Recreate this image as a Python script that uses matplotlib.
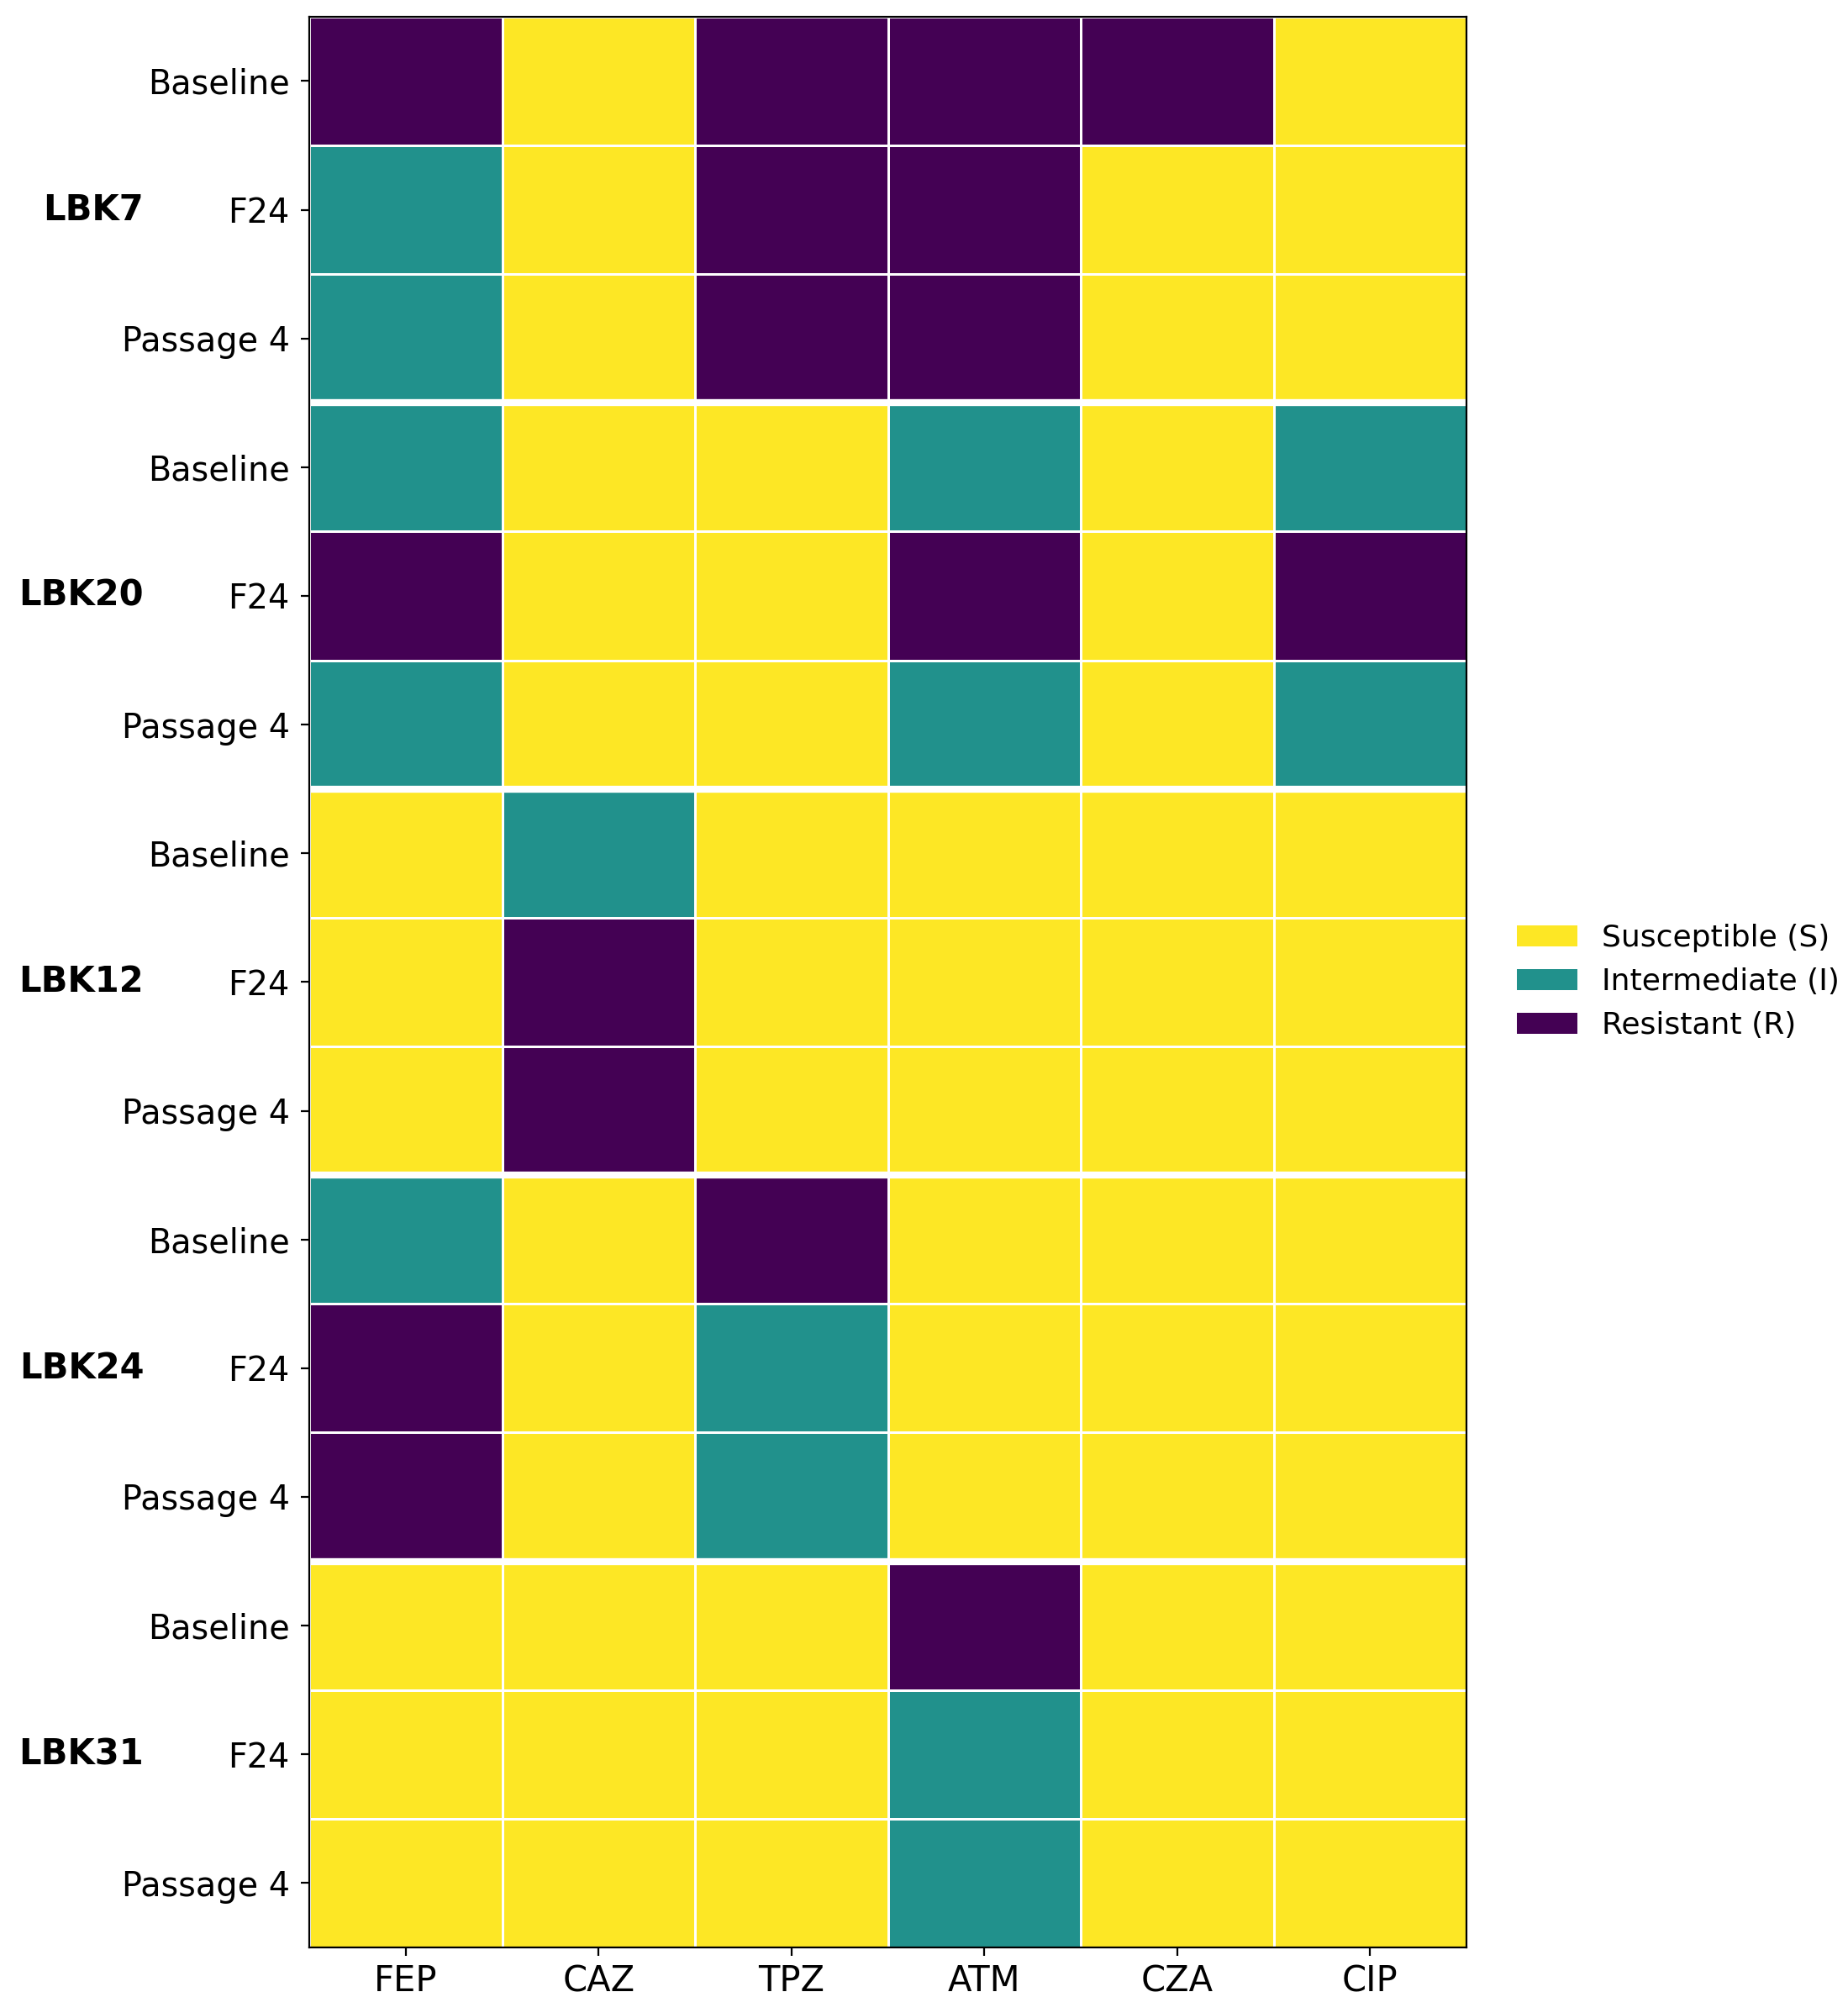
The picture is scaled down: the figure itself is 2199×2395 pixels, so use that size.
import numpy as np
import matplotlib.pyplot as plt
from matplotlib.colors import ListedColormap
from matplotlib.patches import Patch


drugs = ['FEP', 'CAZ', 'TPZ', 'ATM', 'CZA', 'CIP']
isolates = ['LBK7', 'LBK20', 'LBK12', 'LBK24', 'LBK31']
stages = ['Baseline', 'F24', 'Passage 4']

# S = 0, I = 1, R = 2 ; rows follow isolates x stages
lbk7 = [['R', 'S', 'R', 'R', 'R', 'S'],
        ['I', 'S', 'R', 'R', 'S', 'S'],
        ['I', 'S', 'R', 'R', 'S', 'S']]
lbk20 = [['I', 'S', 'S', 'I', 'S', 'I'],
         ['R', 'S', 'S', 'R', 'S', 'R'],
         ['I', 'S', 'S', 'I', 'S', 'I']]
lbk12 = [['S', 'I', 'S', 'S', 'S', 'S'],
         ['S', 'R', 'S', 'S', 'S', 'S'],
         ['S', 'R', 'S', 'S', 'S', 'S']]
lbk24 = [['I', 'S', 'R', 'S', 'S', 'S'],
         ['R', 'S', 'I', 'S', 'S', 'S'],
         ['R', 'S', 'I', 'S', 'S', 'S']]
lbk31 = [['S', 'S', 'S', 'R', 'S', 'S'],
         ['S', 'S', 'S', 'I', 'S', 'S'],
         ['S', 'S', 'S', 'I', 'S', 'S']]

codes = {'S': 0, 'I': 1, 'R': 2}
legend_labels = ['Susceptible (S)', 'Intermediate (I)', 'Resistant (R)']
colors = ['#fde725', '#21918c', '#440154']

grid = np.array([[codes[c] for c in row]
                 for block in [lbk7, lbk20, lbk12, lbk24, lbk31]
                 for row in block])

cmap = ListedColormap(colors)

fig = plt.figure(figsize=(10.995, 11.975), dpi=200)
ax = fig.add_axes([0.1674, 0.0326, 0.6262, 0.9591])

ax.pcolormesh(grid, cmap=cmap, vmin=-0.5, vmax=2.5,
              edgecolors='white', linewidth=1.0)
for k in range(1, len(isolates)):
    ax.axhline(k * len(stages), color='white', lw=3)

ax.set_xlim(0, len(drugs))
ax.set_ylim(len(grid), 0)

ax.set_xticks(np.arange(len(drugs)) + 0.5)
ax.set_xticklabels(drugs, fontsize=15)
ax.set_yticks(np.arange(len(grid)) + 0.5)
ax.set_yticklabels(stages * len(isolates), fontsize=14.3)
ax.tick_params(axis='y', pad=5)

for i, name in enumerate(isolates):
    ax.text(-0.143, i * len(stages) + 1.5, name, transform=ax.get_yaxis_transform(),
            ha='right', va='center', fontsize=15, fontweight='bold')

handles = [Patch(facecolor=c, label=l) for c, l in zip(colors, legend_labels)]
ax.legend(handles=handles, loc='center left', bbox_to_anchor=(1.02, 0.5),
          frameon=False, fontsize=13)

fig.savefig('out.png', dpi=200)
